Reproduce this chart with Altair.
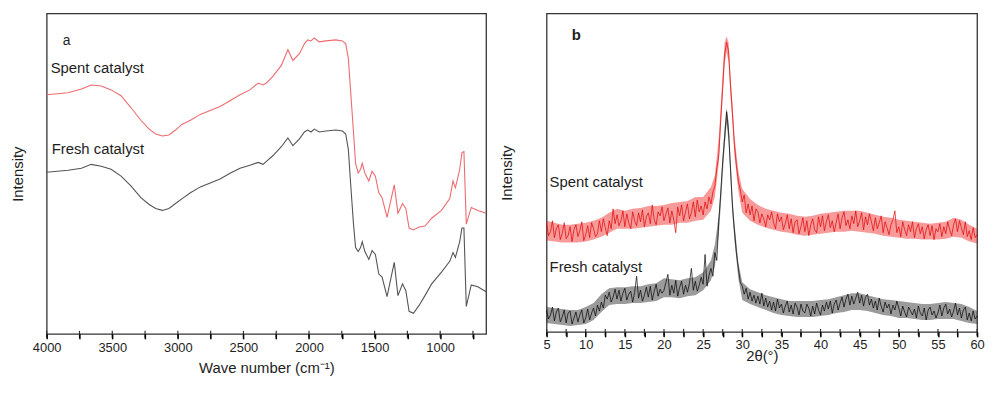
import altair as alt
import pandas as pd

# ---------------- Panel a: FTIR ----------------
ftir_wn = [4000, 3836, 3735, 3660, 3584, 3509, 3433, 3358, 3282, 3219, 3169, 3118, 3068, 3018,
           2967, 2904, 2829, 2753, 2678, 2602, 2526, 2451, 2388, 2350, 2325, 2274, 2211, 2161,
           2123, 2073, 2035, 2010, 1985, 1960, 1922, 1871, 1796, 1745, 1720, 1700, 1683, 1662,
           1645, 1625, 1607, 1594, 1574, 1544, 1519, 1494, 1468, 1443, 1405, 1380, 1350, 1322,
           1287, 1262, 1237, 1204, 1161, 1116, 1065, 990, 927, 902, 884, 851, 834, 819, 801,
           763, 713, 650]
ftir_spent = [244, 246, 250, 254, 253, 249, 243, 231, 218, 209, 204, 202, 203, 208,
              214, 218, 224, 228, 232, 238, 244, 249, 256, 254, 256, 263, 274, 290,
              279, 286, 296, 300, 299, 302, 298, 299, 300, 299, 296, 281, 248, 208,
              174, 164, 168, 174, 164, 156, 166, 161, 144, 139, 119, 134, 152, 123,
              133, 128, 108, 106, 109, 110, 118, 126, 138, 156, 149, 168, 185, 186, 112,
              129, 126, 123]
ftir_fresh = [165, 167, 169, 173, 171, 168, 161, 151, 139, 132, 128, 126, 128, 133,
              138, 144, 150, 154, 158, 164, 169, 172, 175, 173, 176, 182, 191, 200,
              192, 199, 206, 208, 206, 209, 206, 207, 208, 207, 204, 188, 154, 114,
              88, 84, 88, 94, 84, 76, 85, 81, 61, 58, 38, 54, 73, 39,
              51, 44, 23, 21, 29, 39, 51, 63, 74, 83, 78, 94, 108, 108, 28,
              50, 48, 43]
ftir_ticks = [4000, 3750, 3500, 3250, 3000, 2750, 2500, 2250, 2000, 1750, 1500, 1250, 1000, 750]

# ---------------- Panel b: XRD (2theta from 5 to 60, step 0.25) ----------------
xrd_spent = [
    109, 97, 101, 112,  95, 104, 108, 93,   99, 110, 94, 97,    106, 91, 103, 108,
    96, 102, 111, 92,   98, 107, 95, 110,   104, 96, 99, 112,   101, 114, 105, 97,
    112, 104, 124, 109, 118, 107, 112, 122, 106, 119, 110, 104, 121, 112, 107, 120,
    111, 123, 106, 116, 120, 109, 128, 113, 108, 121, 117, 126, 112, 119, 125, 110,
    122, 113, 100, 126, 117, 128, 112, 121, 129, 114, 120, 131, 116, 133, 121, 127,
    118, 131, 124, 136, 129, 141, 147, 165, 178, 214, 246, 280, 292, 283, 248, 220,
    188, 168, 152, 143, 131, 138, 120, 129, 118, 127, 112, 124, 121, 110, 119, 114,
    106, 118, 113, 121, 110, 104, 119, 111, 116, 103, 109, 118, 104, 114, 100, 111,
    113, 99, 106, 115,  101, 112, 97, 108,  114, 103, 100, 116, 106, 117, 102, 111,
    118, 105, 112, 101, 110, 119, 104, 115, 121, 107, 113, 104, 117, 109, 122, 106,
    112, 120, 103, 116, 108, 119, 111, 102, 115, 104, 110, 117, 100, 111, 105, 98,
    108, 113, 122, 100, 106, 96, 111, 103,  97, 108, 101, 111,  95, 104, 109, 99,
    106, 94, 103, 108,  97, 107, 93, 104,   101, 109, 96, 106,  99, 111, 103, 97,
    108, 114, 101, 112, 105, 98, 111, 96,   102, 93, 105, 95,   98]
xrd_fresh = [
    22, 13, 17, 25,   11, 20, 24, 10,   15, 22, 9, 19,    21, 8, 14, 20,
    10, 17, 22, 9,    14, 23, 12, 19,   24, 16, 27, 21,   30, 24, 37, 33,
    40, 30, 35, 43,   33, 42, 31, 39,   44, 32, 38, 41,   30, 40, 56, 34,
    42, 31, 37, 45,   35, 46, 32, 41,   48, 36, 43, 39,   42, 50, 58, 37,
    47, 39, 52, 36,   45, 51, 38, 47,   40, 49, 64, 42,   51, 41, 47, 55,
    48, 78, 46, 57,   64, 56, 80, 72,   112, 140, 172, 196, 222, 202, 164, 126,
    102, 80, 64, 50,  46, 38, 44, 33,   40, 31, 37, 29,   36, 28, 39, 26,
    34, 25, 31, 22,   30, 21, 33, 24,   28, 19, 26, 31,   20, 27, 18, 29,
    25, 17, 28, 21,   19, 28, 24, 16,   26, 18, 29, 22,   17, 27, 21, 30,
    23, 31, 19, 28,   32, 22, 29, 35,   25, 33, 38, 27,   36, 28, 34, 40,
    29, 37, 26, 35,   38, 27, 33, 24,   31, 22, 34, 26,   20, 30, 24, 28,
    18, 27, 22, 31,   24, 16, 26, 20,   15, 25, 21, 17,   23, 14, 26, 19,
    16, 24, 12, 22,   25, 17, 21, 14,   19, 27, 16, 24,   28, 18, 23, 15,
    21, 29, 17, 24,   14, 22, 25, 12,   19, 11, 21, 13,   16]
xrd_start, xrd_step = 5, 0.25
xrd_theta = [xrd_start + xrd_step * i for i in range(len(xrd_spent))]

# noise envelope (lower / upper edge of the noisy band)
band_theta = [5, 6, 7, 8, 9, 10, 11, 12, 13, 14, 15, 16, 17, 18, 19, 20, 21, 22, 23, 24, 25, 26,
              26.5, 27, 27.25, 27.5, 27.75, 28, 28.25, 28.5, 28.75, 29, 29.5,
              30, 31, 32, 33, 34, 35, 36, 37, 38, 39, 40, 41, 42, 43, 44, 45, 46, 47, 48, 49,
              50, 51, 52, 53, 54, 55, 56, 57, 58, 59, 60]
spent_lo = [92, 91, 90, 90, 90, 91, 93, 96, 100, 104, 104, 104, 105, 106, 107, 108, 108, 110,
            110, 112, 113, 122,
            136, 170, 205, 238, 270, 282, 272, 238, 210, 178, 142,
            120, 112, 108, 105, 103, 101, 100, 98, 97, 98, 99, 100, 101, 101, 102, 101, 100,
            99, 97, 96, 95, 94, 94, 93, 93, 93, 94, 96, 95, 91, 89]
spent_hi = [112, 110, 108, 108, 109, 110, 112, 115, 120, 124, 122, 124, 125, 127, 127, 128,
            130, 131, 132, 136, 136, 146,
            158, 196, 228, 262, 292, 298, 292, 258, 230, 198, 162,
            144, 134, 128, 124, 122, 120, 119, 117, 116, 117, 119, 120, 121, 122, 122, 122,
            120, 118, 116, 115, 113, 112, 111, 110, 109, 110, 111, 115, 113, 108, 104]
fresh_lo = [9, 8, 7, 6, 7, 8, 12, 20, 27, 28, 28, 29, 29, 30, 31, 35, 35, 34, 36, 37, 42, 52,
            66, 98, 126, 158, 186, 210, 192, 154, 118, 92, 54,
            32, 28, 25, 22, 19, 17, 16, 15, 15, 15, 16, 17, 19, 20, 22, 22, 21, 19, 17, 16,
            14, 14, 13, 12, 12, 13, 13, 13, 11, 9, 8]
fresh_hi = [25, 24, 23, 22, 22, 25, 29, 38, 44, 45, 45, 46, 46, 48, 49, 54, 53, 52, 54, 55,
            60, 72,
            88, 118, 146, 178, 206, 226, 212, 174, 136, 110, 70,
            50, 43, 40, 37, 35, 33, 31, 31, 31, 31, 32, 33, 35, 37, 39, 39, 37, 35, 33, 32,
            31, 30, 29, 28, 28, 29, 30, 29, 28, 25, 21]
xrd_ticks = [5, 7.5, 10, 12.5, 15, 17.5, 20, 22.5, 25, 27.5, 30, 32.5, 35, 37.5, 40,
             42.5, 45, 47.5, 50, 52.5, 55, 57.5, 60]

series = ["Spent catalyst", "Fresh catalyst"]

FONT = "Liberation Sans"
TXT = "#1e1e1e"
FRAME = "#333333"

ftir_df = pd.DataFrame({
    "wn": ftir_wn * 2,
    "I": ftir_spent + ftir_fresh,
    "s": [series[0]] * len(ftir_wn) + [series[1]] * len(ftir_wn),
})
xrd_df = pd.DataFrame({
    "t": xrd_theta * 2,
    "I": xrd_spent + xrd_fresh,
    "s": [series[0]] * len(xrd_theta) + [series[1]] * len(xrd_theta),
})
band_df = pd.DataFrame({
    "t": band_theta * 2,
    "lo": spent_lo + fresh_lo,
    "hi": spent_hi + fresh_hi,
    "s": [series[0]] * len(band_theta) + [series[1]] * len(band_theta),
})

WA, HA = 443, 323
WB, HB = 434, 321
TICK = 5

# ---------- panel a ----------
xa_scale = alt.Scale(domain=[650, 4000], reverse=True, nice=False, zero=False)
xa_axis = alt.Axis(values=ftir_ticks, format="d", ticks=True, tickSize=TICK,
                   tickColor="#000000", tickWidth=1.5, tickOpacity=1, labelFlush=False,
                   labelExpr="datum.value % 500 === 0 ? datum.label : ''",
                   title="Wave number (cm\u207b\u00b9)", titlePadding=6,
                   labelPadding=3, zindex=2)
ya_scale = alt.Scale(domain=[0, 327], nice=False, zero=False)
ya_axis = alt.Axis(labels=False, ticks=False, domain=False, grid=False,
                   title="Intensity", titlePadding=21)

ftir_lines = alt.Chart(ftir_df).mark_line(strokeWidth=1.1).encode(
    x=alt.X("wn:Q", scale=xa_scale, axis=xa_axis),
    y=alt.Y("I:Q", scale=ya_scale, axis=ya_axis),
    color=alt.Color("s:N", scale=alt.Scale(domain=series, range=["#ee6b70", "#555555"]),
                    legend=None),
    detail="s:N",
)
ftir_tickmarks = alt.Chart(pd.DataFrame({"wn": ftir_ticks})).mark_rule(
    color=FRAME, strokeWidth=1.2, clip=False).encode(
    x=alt.X("wn:Q", scale=xa_scale, axis=xa_axis),
    y=alt.value(HA - 3), y2=alt.value(HA + 4),
)

def label(txt, x, y, size=15, weight="normal", align="left"):
    return alt.Chart(pd.DataFrame({"t": [txt]})).mark_text(
        font=FONT, fontSize=size, fontWeight=weight, color=TXT, align=align,
        baseline="middle").encode(text="t:N", x=alt.value(x), y=alt.value(y))

panel_a = alt.layer(
    ftir_lines,
    ftir_tickmarks,
    label("a", 20, 28, size=14, align="center"),
    label("Spent catalyst", 4, 55),
    label("Fresh catalyst", 5, 137),
).properties(width=WA, height=HA)

# ---------- panel b ----------
xb_scale = alt.Scale(domain=[5, 60], nice=False, zero=False)
xb_axis = alt.Axis(values=xrd_ticks, format="d", ticks=True, tickSize=TICK,
                   tickColor="#000000", tickWidth=1.5, tickOpacity=1, labelFlush=False,
                   labelExpr="datum.value % 5 === 0 ? datum.label : ''",
                   title="2\u03b8(\u00b0)", titlePadding=-3, labelPadding=2, zindex=2)
yb_scale = alt.Scale(domain=[0, 321], nice=False, zero=False)
yb_axis = alt.Axis(labels=False, ticks=False, domain=False, grid=False,
                   title="Intensity", titlePadding=32)

xrd_band = alt.Chart(band_df).mark_area(opacity=0.45, interpolate="linear").encode(
    x=alt.X("t:Q", scale=xb_scale, axis=xb_axis),
    y=alt.Y("lo:Q", scale=yb_scale, axis=yb_axis),
    y2="hi:Q",
    color=alt.Color("s:N", scale=alt.Scale(domain=series, range=["#ee2020", "#222222"]),
                    legend=None),
    detail="s:N",
)
xrd_lines = alt.Chart(xrd_df).mark_line(strokeWidth=0.7).encode(
    x=alt.X("t:Q", scale=xb_scale, axis=xb_axis),
    y=alt.Y("I:Q", scale=yb_scale, axis=yb_axis),
    stroke=alt.Stroke("s:N", scale=alt.Scale(domain=series, range=["#e00000", "#000000"]),
                      legend=None),
    detail="s:N",
)
xrd_tickmarks = alt.Chart(pd.DataFrame({"t": xrd_ticks})).mark_rule(
    color=FRAME, strokeWidth=1.2, clip=False).encode(
    x=alt.X("t:Q", scale=xb_scale, axis=xb_axis),
    y=alt.value(HB - 3), y2=alt.value(HB + 4),
)

panel_b = alt.layer(
    xrd_band,
    xrd_lines,
    xrd_tickmarks,
    label("b", 30, 22, size=15, weight="bold", align="center"),
    label("Spent catalyst", 3, 170),
    label("Fresh catalyst", 3, 256),
).properties(width=WB, height=HB)

chart = alt.hconcat(panel_a, panel_b, spacing=10).resolve_scale(
    x="independent", y="independent", color="independent"
).properties(
    padding={"left": 2, "top": 3, "right": 0, "bottom": 0}
).configure_view(
    stroke=FRAME, strokeWidth=1.3
).configure_axis(
    labelFont=FONT, titleFont=FONT, labelFontSize=13, titleFontSize=15,
    labelColor=TXT, titleColor=TXT, titleFontWeight="normal",
    domain=False, grid=False,
)

chart.save("out.html", embed_options={"renderer": "svg", "actions": False})
